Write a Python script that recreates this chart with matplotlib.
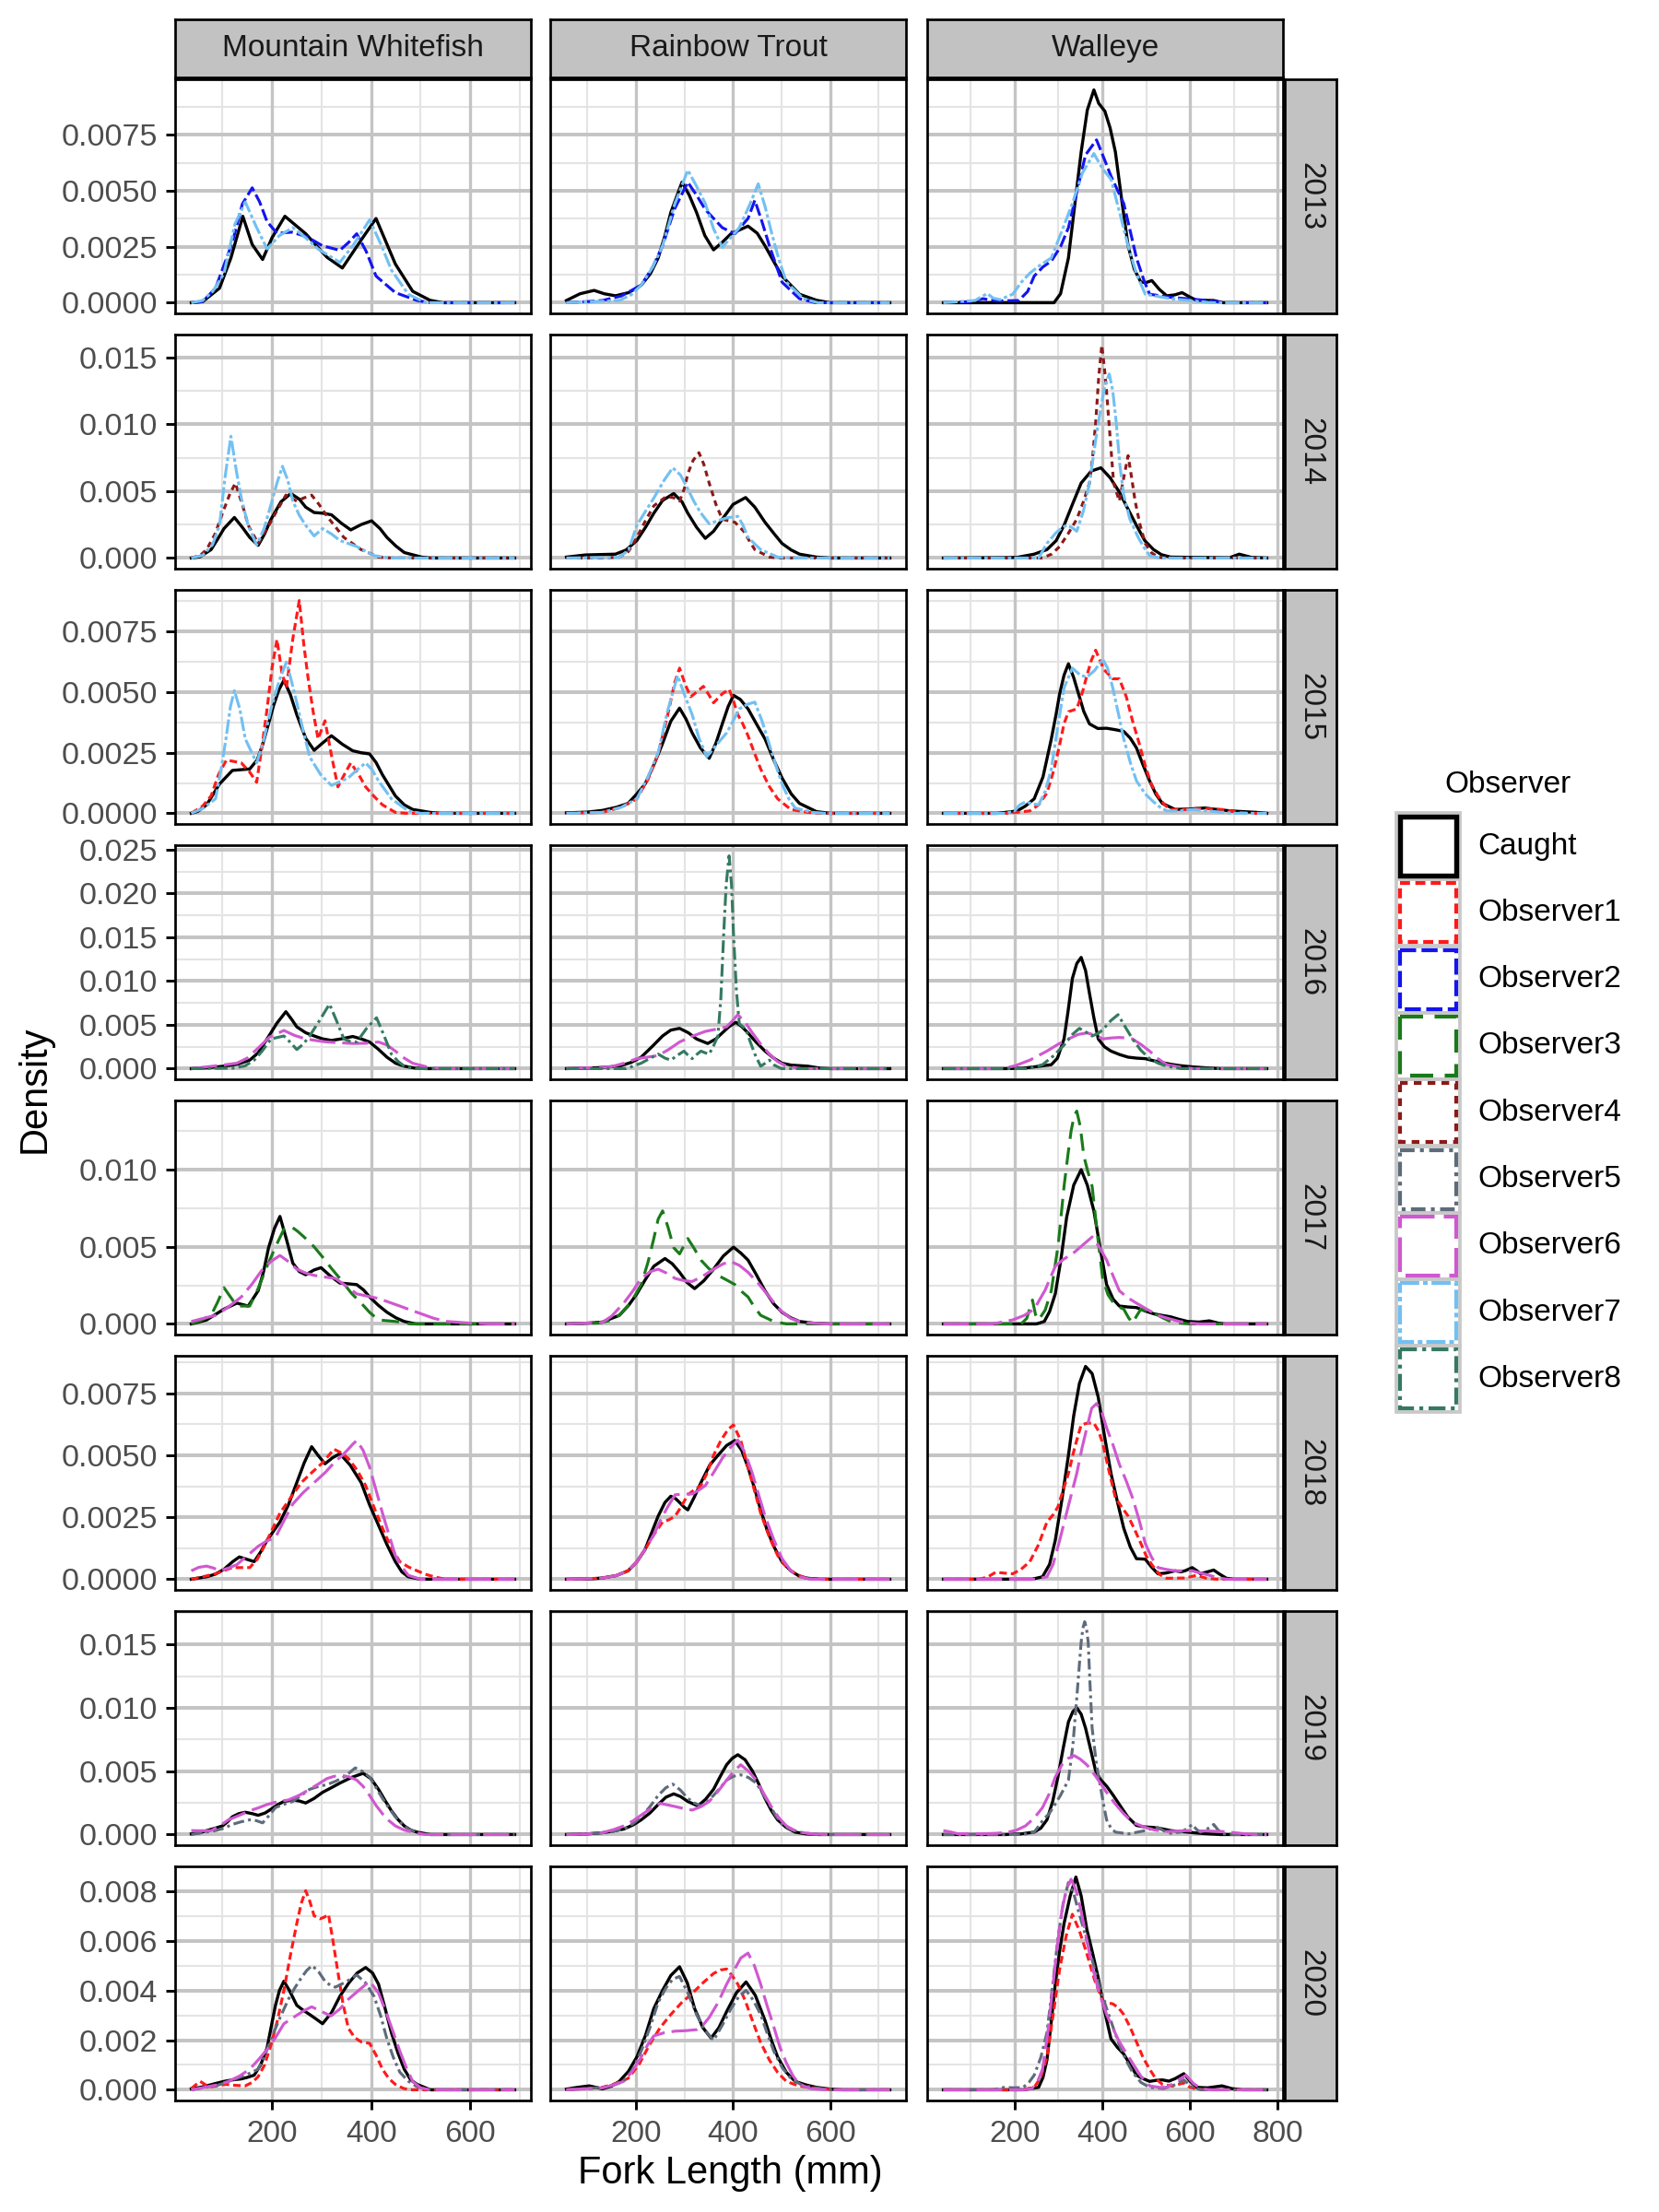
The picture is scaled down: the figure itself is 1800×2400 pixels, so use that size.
import matplotlib
matplotlib.use('Agg')
import matplotlib.pyplot as plt
from matplotlib.patches import Rectangle
import numpy as np

plt.rcParams['font.family'] = ['Liberation Sans', 'DejaVu Sans']

# ---------------- data ----------------
SPECIES = ['Mountain Whitefish', 'Rainbow Trout', 'Walleye']
SP_KEYS = ['MW', 'RT', 'WA']
YEARS = [2013, 2014, 2015, 2016, 2017, 2018, 2019, 2020]
OBSERVERS = ['Caught', 'Observer1', 'Observer2', 'Observer3', 'Observer4',
             'Observer5', 'Observer6', 'Observer7', 'Observer8']
# fork length data range per species (mm)
FORK_RANGE = {'MW': (37, 690), 'RT': (57, 723), 'WA': (38, 775)}
X_BREAKS = {'MW': [200, 400, 600], 'RT': [200, 400, 600], 'WA': [200, 400, 600, 800]}
Y_BREAKS = {2013: [0, 0.0025, 0.005, 0.0075], 2014: [0, 0.005, 0.010, 0.015],
            2015: [0, 0.0025, 0.005, 0.0075], 2016: [0, 0.005, 0.010, 0.015, 0.020, 0.025],
            2017: [0, 0.005, 0.010], 2018: [0, 0.0025, 0.005, 0.0075],
            2019: [0, 0.005, 0.010, 0.015], 2020: [0, 0.002, 0.004, 0.006, 0.008]}
Y_DECIMALS = {2013: 4, 2014: 3, 2015: 4, 2016: 3, 2017: 3, 2018: 4, 2019: 3, 2020: 3}
DENSITY_UNIT = 1e-3   # densities below are given in units of 1e-3 per mm

d2013 = {
 ('MW', 'Caught'): [(37,0),(60,0.05),(94,0.65),(117,2.0),(141,3.86),(160,2.6),(181,1.93),(200,2.9),(226,3.86),(268,3.08),(311,2.03),(342,1.55),(380,2.8),(410,3.76),(449,1.73),(484,0.51),(519,0.11),(545,0)],
 ('MW', 'Observer2'): [(37,0),(60,0.05),(86,0.65),(120,2.7),(140,4.4),(160,5.13),(175,4.5),(190,3.62),(210,3.1),(240,3.15),(270,2.95),(302,2.54),(337,2.34),(355,2.7),(371,3.08),(390,2.3),(410,1.19),(449,0.45),(493,0.1),(520,0)],
 ('MW', 'Observer7'): [(37,0),(60,0.1),(80,0.5),(103,1.3),(125,3.5),(146,4.5),(168,3.4),(190,2.4),(215,3.0),(242,3.35),(268,2.9),(293,2.4),(337,1.8),(365,2.6),(397,3.7),(420,2.6),(441,1.46),(475,0.38),(510,0)],
 ('RT', 'Caught'): [(57,0.1),(85,0.4),(114,0.55),(135,0.4),(158,0.31),(185,0.45),(211,0.78),(230,1.3),(246,2.0),(260,3.0),(272,4.03),(295,5.38),(310,4.8),(325,4.03),(342,3.0),(360,2.36),(378,2.7),(396,3.08),(431,3.42),(450,3.1),(466,2.54),(485,1.8),(501,1.19),(537,0.38),(572,0.11),(600,0)],
 ('RT', 'Observer2'): [(57,0),(100,0.05),(131,0.1),(170,0.3),(211,0.78),(235,1.6),(255,2.54),(280,4.2),(307,5.38),(325,4.8),(343,4.16),(378,3.35),(404,3.08),(431,3.76),(445,4.57),(460,3.6),(475,2.54),(501,0.92),(537,0.18),(570,0)],
 ('RT', 'Observer7'): [(57,0),(166,0.1),(190,0.35),(211,0.78),(235,1.6),(255,2.54),(280,4.4),(307,5.92),(325,5.2),(343,4.43),(360,3.3),(378,2.47),(395,2.9),(413,3.35),(435,4.4),(452,5.31),(466,4.3),(480,3.08),(495,1.9),(510,0.92),(545,0.18),(575,0)],
 ('WA', 'Caught'): [(38,0),(290,0),(305,0.4),(323,2.0),(337,4.3),(352,6.73),(366,8.6),(381,9.5),(392,8.9),(406,8.55),(418,7.8),(430,6.73),(445,4.5),(459,2.54),(473,1.5),(488,0.92),(500,0.9),(513,0.99),(530,0.6),(547,0.31),(565,0.35),(582,0.45),(600,0.25),(615,0.11),(654,0.1),(675,0)],
 ('WA', 'Observer2'): [(38,0),(100,0.05),(128,0.18),(160,0.08),(210,0.1),(230,0.5),(245,1.19),(265,1.6),(284,1.86),(305,2.5),(323,3.35),(345,5.2),(362,6.6),(387,7.27),(405,6.4),(420,5.65),(449,4.43),(465,3.1),(478,2.0),(495,1.0),(508,0.38),(556,0.24),(634,0.11),(680,0)],
 ('WA', 'Observer7'): [(38,0),(110,0.1),(138,0.41),(152,0.2),(167,0.14),(196,0.38),(215,0.9),(235,1.32),(260,1.7),(284,2.0),(310,3.3),(332,4.43),(355,5.8),(381,6.66),(400,6.0),(420,5.51),(440,4.0),(459,2.54),(478,1.3),(498,0.38),(556,0.18),(650,0)],
}

d2014 = {
 ('MW', 'Caught'): [(37,0),(55,0.1),(77,0.63),(90,1.4),(103,2.2),(124,3.03),(140,2.3),(155,1.54),(172,0.95),(185,1.8),(198,2.9),(218,4.2),(238,4.82),(255,4.4),(268,3.8),(285,3.4),(302,3.35),(320,3.23),(340,2.6),(359,2.1),(380,2.5),(401,2.78),(418,2.2),(432,1.54),(450,0.9),(467,0.41),(502,0.07),(520,0)],
 ('MW', 'Observer4'): [(37,0),(55,0.2),(68,0.63),(85,1.8),(100,3.35),(115,4.8),(126,5.6),(140,4.0),(152,2.44),(172,1.09),(190,2.2),(207,3.35),(228,4.7),(250,4.25),(265,4.5),(280,4.7),(295,4.0),(311,3.12),(345,1.54),(380,0.63),(415,0.07),(440,0)],
 ('MW', 'Observer7'): [(37,0),(60,0.2),(80,1.0),(94,2.44),(105,6.0),(117,9.1),(128,6.5),(138,4.48),(152,2.4),(169,0.97),(184,2.2),(198,4.0),(210,5.6),(221,6.85),(232,5.8),(242,4.25),(255,3.2),(268,2.44),(285,1.65),(302,2.2),(320,1.8),(337,1.31),(371,0.86),(406,0.18),(440,0)],
 ('RT', 'Caught'): [(57,0.07),(96,0.23),(158,0.29),(180,0.6),(202,1.31),(220,2.3),(237,3.35),(255,4.3),(278,4.82),(295,4.2),(307,3.35),(325,2.3),(343,1.47),(360,2.0),(378,2.9),(400,4.0),(426,4.52),(445,3.8),(466,2.67),(485,1.8),(501,1.09),(520,0.6),(537,0.29),(572,0.07),(600,0)],
 ('RT', 'Observer4'): [(57,0),(130,0),(166,0.07),(185,0.5),(202,1.54),(220,2.8),(237,3.9),(263,4.6),(278,4.5),(290,4.25),(300,5.2),(307,6.3),(318,7.3),(330,7.87),(340,7.0),(351,5.6),(365,4.0),(378,2.9),(404,2.67),(422,2.0),(435,1.2),(445,0.63),(475,0.07),(500,0)],
 ('RT', 'Observer7'): [(57,0),(166,0.05),(185,0.6),(202,2.44),(220,3.5),(237,4.48),(258,5.8),(276,6.74),(292,6.2),(307,5.16),(320,4.2),(334,3.35),(351,2.56),(370,2.8),(387,3.0),(410,3.12),(420,2.5),(431,1.54),(457,0.63),(492,0.07),(520,0)],
 ('WA', 'Caught'): [(38,0),(180,0.03),(206,0.05),(245,0.29),(274,0.63),(295,1.3),(313,2.44),(332,4.0),(352,5.6),(375,6.5),(397,6.74),(418,6.0),(439,4.93),(458,3.7),(478,2.44),(497,1.3),(517,0.63),(535,0.25),(556,0.07),(690,0.02),(712,0.29),(740,0.05),(775,0)],
 ('WA', 'Observer4'): [(38,0),(264,0),(285,0.3),(303,0.86),(322,1.8),(342,2.9),(357,4.2),(371,5.6),(378,7.5),(385,10.1),(392,13.5),(399,15.9),(405,14.2),(410,12.4),(418,9.0),(426,5.6),(439,4.25),(449,6.0),(459,7.65),(467,6.0),(475,4.25),(486,2.5),(498,1.09),(512,0.4),(527,0.07),(545,0)],
 ('WA', 'Observer7'): [(38,0),(255,0),(274,1.09),(295,1.9),(310,2.3),(319,2.44),(330,2.3),(342,2.0),(357,3.5),(371,5.6),(385,8.8),(397,11.3),(407,13.0),(416,13.75),(424,12.5),(432,10.1),(440,7.0),(449,4.7),(463,2.9),(482,1.54),(495,0.8),(508,0.18),(530,0)],
}

d2015 = {
 ('MW', 'Caught'): [(37,0),(50,0.08),(68,0.35),(94,1.21),(120,1.77),(155,1.83),(170,2.2),(181,2.83),(193,3.7),(203,4.44),(214,5.1),(224,5.49),(237,4.9),(250,4.07),(268,3.1),(285,2.6),(302,2.9),(320,3.2),(342,2.85),(363,2.58),(380,2.5),(397,2.45),(410,2.1),(423,1.59),(449,0.72),(467,0.35),(484,0.16),(519,0.04),(540,0)],
 ('MW', 'Observer1'): [(37,0),(60,0.3),(77,0.72),(92,1.6),(108,2.2),(138,2.08),(155,1.7),(169,1.28),(180,2.8),(190,4.31),(200,6.0),(210,7.17),(220,5.8),(229,5.18),(242,7.2),(255,8.78),(264,7.0),(273,5.55),(283,4.2),(293,3.07),(307,3.82),(320,2.4),(333,1.09),(346,1.6),(359,2.08),(375,1.6),(389,1.09),(406,0.7),(423,0.35),(449,0.04),(470,0)],
 ('MW', 'Observer7'): [(37,0),(60,0.2),(86,0.6),(97,1.8),(107,3.07),(116,4.4),(124,5.06),(135,4.3),(146,3.07),(169,2.08),(183,3.0),(198,4.31),(215,5.5),(229,6.24),(240,5.4),(250,4.56),(263,3.4),(276,2.33),(298,1.6),(320,1.15),(354,1.46),(372,1.8),(389,2.08),(402,1.8),(415,1.34),(441,0.6),(475,0.1),(500,0)],
 ('RT', 'Caught'): [(57,0.02),(100,0.05),(131,0.12),(160,0.25),(184,0.41),(202,0.8),(219,1.21),(237,2.0),(254,2.83),(272,3.8),(290,4.34),(303,3.9),(316,3.32),(333,2.7),(351,2.27),(365,2.9),(378,3.69),(390,4.4),(401,4.87),(415,4.7),(431,4.31),(448,3.7),(466,3.07),(484,2.2),(501,1.46),(520,0.8),(537,0.41),(572,0.07),(600,0)],
 ('RT', 'Observer1'): [(57,0),(131,0.04),(170,0.25),(202,0.6),(225,1.4),(246,2.45),(265,4.0),(280,5.4),(290,5.99),(302,5.3),(313,4.81),(325,5.0),(339,5.24),(350,4.9),(360,4.56),(378,4.93),(392,5.12),(400,4.7),(410,4.07),(420,3.7),(431,3.2),(444,2.5),(457,1.83),(475,1.1),(492,0.6),(519,0.16),(554,0.04),(580,0)],
 ('RT', 'Observer7'): [(57,0),(131,0.04),(170,0.25),(202,0.6),(225,1.5),(246,2.5),(265,4.2),(286,5.68),(300,4.9),(316,4.07),(330,3.1),(346,2.33),(365,2.8),(387,3.32),(400,3.8),(413,4.31),(430,4.5),(445,4.59),(460,3.8),(475,2.83),(488,2.0),(501,1.21),(515,0.6),(528,0.22),(563,0.04),(590,0)],
 ('WA', 'Caught'): [(38,0),(160,0),(185,0.05),(206,0.1),(225,0.3),(245,0.6),(265,1.5),(284,3.07),(295,4.1),(303,4.93),(313,5.7),(323,6.17),(335,5.6),(346,4.93),(358,4.2),(371,3.69),(390,3.5),(410,3.51),(430,3.45),(449,3.38),(464,3.1),(478,2.7),(493,2.0),(508,1.34),(522,0.8),(537,0.41),(566,0.16),(600,0.18),(634,0.22),(665,0.15),(693,0.1),(751,0.04),(775,0)],
 ('WA', 'Observer1'): [(38,0),(180,0),(210,0.05),(235,0.1),(255,0.35),(274,0.84),(290,1.8),(303,2.83),(313,3.7),(323,4.19),(342,4.31),(355,5.0),(365,5.68),(375,6.3),(385,6.73),(395,6.3),(404,5.93),(424,5.55),(439,5.55),(455,4.8),(469,3.82),(484,2.9),(498,1.96),(512,1.2),(527,0.72),(542,0.35),(556,0.16),(585,0.15),(615,0.2),(645,0.18),(673,0.16),(712,0.04),(740,0)],
 ('WA', 'Observer7'): [(38,0),(180,0),(200,0.1),(212,0.35),(225,0.47),(240,0.4),(255,0.35),(270,0.9),(284,1.83),(298,3.5),(313,5.18),(332,5.99),(350,5.7),(365,5.62),(383,5.9),(401,6.36),(412,6.0),(424,5.18),(437,4.1),(449,3.07),(464,2.1),(478,1.34),(498,0.8),(517,0.47),(532,0.25),(547,0.1),(575,0.1),(605,0.16),(640,0.1),(673,0.04),(700,0)],
}

d2016 = {
 ('MW', 'Caught'): [(37,0),(70,0.1),(103,0.28),(130,0.5),(155,0.97),(172,1.8),(190,3.39),(210,5.2),(228,6.5),(240,5.6),(250,4.77),(268,4.1),(285,3.73),(302,3.4),(320,3.22),(340,3.4),(363,3.67),(380,3.4),(397,3.04),(415,2.2),(432,1.31),(450,0.6),(467,0.28),(490,0.05),(510,0)],
 ('MW', 'Observer6'): [(37,0),(68,0.2),(100,0.4),(129,0.62),(150,1.2),(172,2.35),(195,3.6),(224,4.36),(245,3.8),(268,3.39),(290,3.2),(311,3.04),(340,2.95),(363,2.87),(390,2.9),(415,3.04),(432,2.7),(449,2.0),(467,1.2),(484,0.62),(519,0.1),(540,0)],
 ('MW', 'Observer8'): [(37,0),(120,0.05),(145,0.3),(164,0.97),(180,2.0),(198,3.39),(224,3.73),(237,3.0),(250,2.18),(263,2.8),(276,3.73),(296,5.5),(316,7.37),(330,5.5),(345,3.39),(358,3.1),(371,3.04),(391,4.6),(411,5.81),(426,3.8),(441,1.66),(455,0.8),(467,0.28),(490,0)],
 ('RT', 'Caught'): [(57,0),(120,0.1),(166,0.28),(190,0.7),(211,1.31),(235,2.6),(255,3.73),(272,4.4),(290,4.6),(308,4.1),(325,3.39),(348,2.87),(365,3.4),(378,4.08),(392,4.8),(406,5.29),(418,4.8),(431,4.08),(448,3.0),(466,2.0),(484,1.2),(501,0.62),(520,0.4),(554,0.28),(580,0.05),(600,0)],
 ('RT', 'Observer6'): [(57,0),(148,0.2),(175,0.6),(202,1.14),(246,1.49),(268,2.2),(290,3.04),(316,3.7),(343,4.25),(365,4.5),(387,4.77),(398,5.4),(410,6.16),(425,5.3),(440,4.08),(457,2.8),(475,1.66),(492,0.8),(510,0.28),(540,0)],
 ('RT', 'Observer8'): [(57,0),(180,0),(211,0.62),(230,1.2),(246,1.66),(260,1.2),(272,0.97),(285,1.5),(299,2.0),(308,1.5),(316,1.14),(325,1.6),(334,2.0),(343,1.8),(351,1.66),(360,2.6),(369,3.73),(375,8.0),(381,15.5),(386,21.0),(392,24.3),(397,21.0),(401,15.5),(407,9.0),(413,5.12),(420,4.8),(427,4.43),(436,3.0),(445,1.66),(457,0.28),(466,0.6),(475,0.97),(485,0.4),(500,0)],
 ('WA', 'Caught'): [(38,0),(180,0),(220,0.05),(245,0.2),(284,0.45),(298,1.2),(313,3.39),(322,6.5),(332,10.3),(342,12.0),(352,12.7),(362,11.2),(371,8.58),(381,5.8),(391,3.39),(405,2.5),(420,2.0),(440,1.6),(459,1.31),(478,1.2),(498,1.14),(517,0.9),(537,0.69),(556,0.5),(576,0.35),(605,0.2),(634,0.1),(670,0)],
 ('WA', 'Observer6'): [(38,0),(170,0),(200,0.3),(235,0.97),(255,1.5),(274,2.0),(300,2.8),(323,3.39),(345,3.9),(365,4.08),(385,3.8),(401,3.39),(420,3.5),(439,3.56),(455,3.5),(469,3.39),(490,2.7),(508,2.0),(528,1.1),(547,0.45),(586,0.1),(610,0)],
 ('WA', 'Observer8'): [(38,0),(230,0),(264,0.45),(290,1.5),(313,2.7),(332,3.9),(348,4.6),(362,4.2),(377,3.73),(390,4.0),(401,4.43),(420,5.5),(436,6.16),(452,4.8),(469,3.39),(488,2.1),(508,1.14),(528,0.6),(547,0.28),(580,0)],
}

d2017 = {
 ('MW', 'Caught'): [(37,0),(50,0.1),(68,0.26),(85,0.6),(103,0.96),(129,1.35),(152,1.16),(172,2.15),(183,3.4),(193,4.94),(205,6.2),(216,6.97),(229,5.5),(242,3.94),(255,3.4),(268,3.19),(285,3.5),(299,3.65),(318,3.1),(337,2.65),(355,2.6),(371,2.55),(385,2.2),(397,1.75),(415,1.2),(432,0.76),(450,0.4),(467,0.16),(490,0)],
 ('MW', 'Observer3'): [(37,0),(55,0.2),(77,0.56),(90,1.4),(103,2.35),(115,1.8),(129,1.16),(155,1.16),(172,2.3),(190,3.74),(207,5.0),(224,6.14),(238,6.33),(252,6.0),(268,5.54),(285,5.0),(302,4.34),(320,3.6),(337,2.95),(360,2.0),(380,1.35),(397,0.75),(415,0.26),(449,0.16),(480,0)],
 ('MW', 'Observer6'): [(37,0.16),(60,0.35),(86,0.56),(112,1.1),(138,1.75),(160,2.6),(181,3.55),(200,4.1),(216,4.44),(235,4.0),(250,3.55),(268,3.3),(285,3.15),(305,3.05),(328,2.95),(350,2.45),(371,1.95),(393,1.8),(415,1.65),(437,1.4),(458,1.16),(480,0.9),(501,0.66),(527,0.36),(553,0.16),(597,0.06),(640,0)],
 ('RT', 'Caught'): [(57,0),(100,0.05),(131,0.12),(166,0.56),(185,1.2),(202,1.95),(220,2.9),(237,3.74),(260,4.24),(275,3.9),(290,3.35),(305,2.7),(321,2.29),(340,2.8),(360,3.55),(380,4.4),(401,4.98),(416,4.6),(431,4.14),(448,3.2),(466,2.15),(484,1.3),(501,0.76),(519,0.4),(537,0.16),(572,0.03),(600,0)],
 ('RT', 'Observer3'): [(57,0),(123,0.06),(145,0.2),(166,0.56),(190,1.4),(211,2.55),(225,4.0),(237,5.54),(246,6.8),(255,7.33),(266,6.3),(278,4.94),(290,4.54),(307,5.54),(320,4.9),(334,4.14),(350,3.6),(369,3.15),(387,2.85),(404,2.55),(418,2.1),(431,1.75),(444,1.1),(457,0.56),(484,0.16),(510,0)],
 ('RT', 'Observer6'): [(57,0),(131,0.1),(150,0.5),(175,1.35),(193,2.1),(211,2.95),(230,3.4),(246,3.55),(263,3.3),(281,2.95),(300,2.8),(316,2.75),(338,3.1),(360,3.55),(380,3.9),(396,4.04),(413,3.8),(431,3.35),(453,2.6),(475,1.75),(497,0.9),(519,0.36),(540,0.12),(563,0.06),(590,0)],
 ('WA', 'Caught'): [(38,0),(250,0),(268,0.16),(280,0.8),(293,1.95),(306,4.2),(319,6.93),(335,9.0),(352,10.0),(366,9.0),(381,7.33),(396,4.8),(410,2.55),(425,1.6),(439,1.16),(458,1.1),(478,1.06),(497,0.85),(517,0.66),(537,0.55),(556,0.46),(575,0.3),(595,0.16),(620,0.12),(644,0.2),(665,0.05),(680,0)],
 ('WA', 'Observer3'): [(38,0),(215,0),(228,0.36),(241,1.55),(248,0.6),(255,0.26),(270,0.9),(284,2.15),(300,5.2),(313,8.92),(322,11.0),(329,12.5),(336,13.5),(342,13.8),(350,12.8),(358,10.9),(367,9.9),(377,8.92),(389,5.8),(401,2.95),(413,1.9),(426,1.35),(438,1.1),(449,0.96),(460,0.4),(469,0.06),(478,0.5),(488,0.96),(507,0.8),(527,0.56),(541,0.35),(556,0.16),(580,0.05),(600,0)],
 ('WA', 'Observer6'): [(38,0),(150,0),(196,0.26),(222,0.55),(245,0.96),(270,2.2),(293,3.74),(312,4.2),(332,4.54),(355,5.1),(377,5.64),(393,5.0),(410,4.14),(425,3.1),(439,2.15),(458,1.7),(478,1.35),(502,0.95),(527,0.56),(551,0.35),(576,0.16),(600,0.05),(625,0)],
}

d2018 = {
 ('MW', 'Caught'): [(37,0),(68,0.1),(85,0.2),(103,0.4),(120,0.7),(134,0.9),(150,0.8),(164,0.71),(177,1.1),(190,1.57),(216,2.31),(233,3.0),(250,3.9),(265,4.7),(280,5.35),(293,5.0),(307,4.66),(322,4.9),(337,5.07),(358,4.6),(380,3.9),(397,3.0),(415,2.18),(432,1.4),(449,0.71),(462,0.3),(475,0.1),(500,0)],
 ('MW', 'Observer1'): [(37,0),(60,0.1),(86,0.22),(103,0.35),(120,0.47),(155,0.47),(170,0.8),(181,1.2),(198,1.9),(216,2.67),(238,3.3),(259,3.9),(280,4.3),(302,4.7),(325,5.25),(340,5.1),(354,4.88),(372,4.4),(389,3.78),(406,2.9),(423,2.06),(440,1.3),(458,0.71),(475,0.5),(493,0.34),(510,0.2),(527,0.1),(550,0)],
 ('MW', 'Observer6'): [(37,0.34),(52,0.48),(68,0.53),(82,0.45),(94,0.34),(112,0.45),(129,0.59),(150,0.95),(172,1.33),(190,1.55),(207,1.69),(225,2.4),(242,3.04),(263,3.5),(285,3.9),(307,4.3),(328,4.76),(342,5.0),(354,5.25),(363,5.45),(371,5.6),(384,5.2),(397,4.52),(410,3.6),(423,2.67),(436,1.8),(449,0.96),(462,0.5),(475,0.16),(500,0)],
 ('RT', 'Caught'): [(57,0),(110,0.02),(131,0.05),(160,0.15),(184,0.34),(202,0.7),(219,1.2),(233,1.9),(246,2.55),(260,3.1),(272,3.35),(282,3.25),(290,3.1),(300,2.9),(307,2.8),(320,3.3),(334,3.9),(352,4.6),(369,5.0),(387,5.4),(404,5.6),(418,5.2),(431,4.52),(444,3.7),(457,2.8),(470,2.0),(484,1.33),(501,0.7),(519,0.34),(537,0.12),(554,0.04),(580,0)],
 ('RT', 'Observer1'): [(57,0),(110,0.03),(131,0.05),(160,0.15),(184,0.34),(202,0.7),(219,1.2),(237,1.8),(255,2.31),(268,2.4),(281,2.55),(294,2.95),(307,3.41),(320,3.6),(334,3.78),(347,4.3),(360,5.0),(375,5.6),(390,6.05),(401,6.23),(416,5.6),(431,4.52),(444,3.6),(457,2.67),(475,1.7),(492,0.96),(510,0.5),(528,0.22),(550,0.05),(575,0)],
 ('RT', 'Observer6'): [(57,0),(110,0.03),(131,0.05),(160,0.15),(184,0.34),(202,0.7),(219,1.2),(237,1.8),(255,2.55),(268,3.0),(281,3.41),(300,3.44),(316,3.44),(330,3.6),(343,3.78),(360,4.3),(378,4.88),(394,5.3),(410,5.62),(425,5.1),(440,4.27),(453,3.4),(466,2.55),(484,1.6),(501,0.83),(519,0.35),(537,0.1),(560,0)],
 ('WA', 'Caught'): [(38,0),(240,0),(264,0.1),(280,0.6),(293,1.57),(308,3.2),(323,5.0),(335,6.6),(348,7.9),(362,8.59),(377,8.3),(391,7.34),(405,5.8),(420,4.27),(435,3.1),(449,2.06),(464,1.3),(478,0.83),(498,0.81),(512,0.5),(527,0.22),(545,0.25),(566,0.34),(580,0.3),(590,0.35),(605,0.47),(615,0.35),(624,0.22),(640,0.3),(654,0.37),(668,0.2),(683,0.04),(700,0)],
 ('WA', 'Observer1'): [(38,0),(120,0),(140,0.1),(157,0.28),(175,0.25),(196,0.22),(215,0.4),(235,0.71),(255,1.4),(274,2.31),(288,2.6),(299,2.92),(311,3.6),(323,4.27),(337,5.3),(352,6.23),(366,6.3),(381,6.3),(391,6.0),(401,5.5),(415,4.4),(430,3.29),(445,2.9),(459,2.55),(474,2.0),(488,1.45),(500,0.95),(513,0.59),(530,0.2),(547,0.04),(590,0.05),(615,0.16),(635,0.05),(660,0)],
 ('WA', 'Observer6'): [(38,0),(250,0),(274,0.1),(288,0.6),(303,1.57),(322,2.9),(342,4.27),(354,5.3),(365,6.11),(376,6.9),(387,7.09),(398,6.8),(410,6.11),(425,5.4),(439,4.64),(454,4.0),(469,3.29),(484,2.4),(498,1.45),(512,0.9),(527,0.47),(545,0.4),(566,0.34),(585,0.34),(605,0.34),(624,0.25),(644,0.16),(665,0.05),(685,0)],
}

d2019 = {
 ('MW', 'Caught'): [(37,0.05),(55,0.15),(68,0.31),(85,0.5),(100,0.68),(110,1.0),(120,1.4),(133,1.65),(146,1.76),(160,1.65),(172,1.52),(186,1.7),(198,2.0),(211,2.35),(224,2.61),(242,2.73),(255,2.65),(268,2.49),(285,2.85),(302,3.33),(320,3.7),(337,4.06),(360,4.5),(384,4.83),(400,4.4),(415,3.57),(428,2.7),(441,1.88),(454,1.2),(467,0.68),(480,0.35),(493,0.19),(520,0)],
 ('MW', 'Observer5'): [(37,0),(60,0.15),(86,0.31),(103,0.5),(120,0.8),(137,1.0),(155,1.16),(168,1.1),(181,0.92),(194,1.5),(207,2.13),(225,2.4),(242,2.61),(259,3.1),(276,3.57),(294,3.8),(311,3.94),(328,4.2),(345,4.54),(357,4.9),(368,5.26),(382,5.0),(397,4.54),(410,3.7),(423,2.85),(436,2.1),(449,1.4),(462,0.85),(475,0.43),(500,0.05),(520,0)],
 ('MW', 'Observer6'): [(37,0.31),(50,0.3),(77,0.3),(95,0.7),(112,1.16),(133,1.5),(155,1.88),(172,2.1),(190,2.37),(212,2.6),(233,2.73),(255,3.1),(276,3.57),(294,4.0),(311,4.42),(326,4.6),(342,4.66),(356,4.55),(371,4.3),(384,3.8),(397,3.09),(410,2.3),(423,1.64),(436,1.1),(449,0.68),(467,0.35),(484,0.19),(510,0)],
 ('RT', 'Caught'): [(57,0),(100,0.05),(131,0.14),(155,0.28),(175,0.43),(194,0.75),(211,1.16),(229,1.7),(246,2.37),(262,2.95),(278,3.21),(292,3.0),(307,2.61),(328,2.25),(344,2.8),(360,3.57),(374,4.6),(387,5.51),(398,6.0),(410,6.3),(425,5.9),(440,5.02),(453,4.0),(466,2.85),(479,1.9),(492,1.16),(510,0.55),(528,0.19),(550,0.05),(575,0)],
 ('RT', 'Observer5'): [(57,0),(100,0.05),(131,0.14),(155,0.28),(175,0.43),(194,0.85),(211,1.4),(229,2.2),(246,3.09),(262,3.7),(276,3.98),(292,3.5),(307,2.85),(320,2.5),(334,2.25),(347,2.6),(360,3.09),(374,3.7),(387,4.3),(401,4.6),(416,4.71),(432,4.5),(448,4.06),(462,3.2),(475,2.37),(488,1.5),(501,0.8),(519,0.4),(537,0.19),(560,0.05),(585,0)],
 ('RT', 'Observer6'): [(57,0),(100,0.05),(131,0.14),(155,0.4),(175,0.68),(195,1.1),(215,1.64),(233,2.1),(250,2.46),(270,2.3),(290,2.13),(303,2.0),(316,1.93),(334,2.2),(351,2.61),(369,3.4),(387,4.3),(402,5.0),(416,5.51),(432,5.0),(448,4.3),(464,3.2),(480,2.13),(495,1.3),(510,0.68),(528,0.3),(545,0.14),(570,0.03),(595,0)],
 ('WA', 'Caught'): [(38,0),(180,0),(215,0.05),(245,0.19),(260,0.5),(274,1.16),(287,2.6),(299,4.54),(311,6.8),(323,8.89),(333,9.7),(342,10.0),(352,9.5),(362,8.4),(373,6.8),(385,5.02),(397,4.3),(410,3.82),(425,3.1),(439,2.37),(458,1.4),(478,0.72),(497,0.6),(517,0.56),(537,0.45),(556,0.31),(575,0.25),(595,0.19),(615,0.12),(634,0.07),(670,0)],
 ('WA', 'Observer5'): [(38,0),(200,0),(230,0.05),(245,0.19),(256,0.7),(268,1.28),(278,1.6),(288,2.13),(305,3.1),(323,4.3),(333,7.0),(342,10.8),(347,13.0),(352,15.2),(356,16.3),(360,16.8),(364,16.3),(368,15.2),(372,12.0),(377,8.4),(387,5.5),(397,3.57),(404,2.2),(410,1.16),(420,0.5),(430,0.19),(460,0.05),(498,0.31),(512,0.45),(527,0.56),(540,0.3),(556,0.1),(580,0.2),(595,0.5),(605,0.8),(615,0.4),(624,0.19),(638,0.4),(654,0.8),(663,0.4),(673,0.07),(700,0)],
 ('WA', 'Observer6'): [(38,0.31),(55,0.2),(70,0.07),(120,0.05),(160,0.1),(186,0.19),(205,0.35),(225,0.68),(245,1.3),(264,2.13),(279,3.2),(293,4.54),(308,5.5),(322,6.0),(336,6.23),(350,5.95),(365,5.5),(371,5.26),(385,4.6),(397,4.0),(410,3.33),(430,2.4),(449,1.64),(470,0.95),(498,0.56),(520,0.35),(547,0.24),(570,0.28),(595,0.31),(635,0.28),(673,0.24),(700,0.15),(722,0.07),(750,0)],
}

d2020 = {
 ('MW', 'Caught'): [(37,0.04),(55,0.1),(68,0.16),(85,0.25),(103,0.34),(120,0.4),(138,0.44),(150,0.5),(164,0.59),(177,1.0),(190,1.69),(198,2.5),(207,3.4),(215,4.0),(224,4.37),(235,4.0),(250,3.4),(263,3.2),(276,3.03),(289,2.85),(302,2.66),(320,3.1),(337,3.76),(355,4.3),(372,4.7),(389,4.92),(403,4.7),(415,4.25),(428,3.3),(441,2.3),(454,1.5),(467,0.83),(480,0.4),(493,0.22),(520,0)],
 ('MW', 'Observer1'): [(37,0.05),(46,0.2),(55,0.34),(66,0.2),(77,0.12),(92,0.17),(107,0.22),(126,0.18),(146,0.16),(160,0.3),(172,0.53),(185,1.0),(198,1.81),(211,2.8),(224,4.0),(237,5.4),(250,6.69),(259,7.5),(268,8.01),(276,7.6),(285,7.0),(297,6.88),(306,6.95),(314,7.06),(323,6.0),(332,4.86),(343,3.5),(354,2.48),(367,2.1),(380,1.93),(397,1.87),(410,1.4),(423,0.83),(436,0.45),(449,0.22),(465,0.06),(480,0)],
 ('MW', 'Observer5'): [(37,0),(60,0.08),(86,0.16),(108,0.3),(129,0.46),(150,0.62),(172,0.83),(185,1.35),(198,2.05),(215,2.85),(233,3.64),(246,4.1),(259,4.5),(270,4.8),(281,5.0),(294,4.75),(307,4.37),(318,4.2),(328,4.13),(350,4.35),(371,4.62),(389,4.3),(406,3.76),(419,3.0),(432,2.05),(445,1.3),(458,0.71),(475,0.35),(493,0.12),(515,0)],
 ('MW', 'Observer6'): [(37,0),(68,0.12),(90,0.2),(112,0.34),(134,0.55),(155,0.83),(172,1.2),(190,1.62),(207,2.1),(224,2.66),(250,3.0),(266,3.2),(280,3.34),(300,3.15),(319,2.97),(337,3.25),(354,3.64),(375,4.0),(397,4.37),(415,3.9),(432,3.03),(445,2.3),(458,1.56),(471,0.9),(484,0.34),(500,0.08),(520,0)],
 ('RT', 'Caught'): [(57,0.03),(80,0.1),(104,0.16),(118,0.1),(131,0.04),(150,0.15),(166,0.34),(185,0.75),(202,1.32),(220,2.2),(237,3.27),(255,4.0),(272,4.6),(290,4.95),(306,4.3),(321,3.27),(338,2.5),(355,2.08),(371,2.5),(387,3.15),(407,3.9),(427,4.34),(446,3.8),(466,2.79),(479,2.0),(492,1.32),(510,0.7),(528,0.34),(550,0.2),(572,0.1),(600,0.03),(625,0)],
 ('RT', 'Observer1'): [(57,0),(100,0.05),(131,0.1),(158,0.25),(184,0.46),(206,1.0),(228,1.81),(250,2.5),(272,3.03),(294,3.5),(316,3.88),(338,4.3),(360,4.68),(374,4.82),(387,4.86),(398,4.6),(410,4.25),(425,3.6),(440,2.79),(457,1.9),(475,1.2),(492,0.7),(510,0.34),(532,0.18),(554,0.1),(590,0.03),(620,0)],
 ('RT', 'Observer5'): [(57,0),(100,0.05),(131,0.1),(155,0.2),(175,0.34),(193,0.8),(211,1.56),(229,2.5),(246,3.52),(262,4.1),(276,4.45),(290,4.56),(307,3.9),(325,3.03),(342,2.4),(360,1.99),(378,2.6),(396,3.27),(412,3.75),(427,4.0),(442,3.6),(457,3.03),(470,2.3),(484,1.56),(501,0.9),(519,0.46),(541,0.2),(563,0.1),(590,0.03),(620,0)],
 ('RT', 'Observer6'): [(57,0),(100,0.05),(131,0.08),(155,0.2),(175,0.34),(193,0.75),(211,1.32),(224,1.8),(237,2.17),(259,2.3),(281,2.36),(303,2.38),(325,2.42),(338,2.6),(351,2.91),(369,3.5),(387,4.25),(402,4.8),(416,5.3),(431,5.5),(444,5.0),(457,4.25),(470,3.4),(484,2.54),(497,1.7),(510,1.08),(524,0.55),(537,0.22),(560,0.05),(590,0)],
 ('WA', 'Caught'): [(38,0),(220,0),(255,0.1),(265,0.5),(274,1.2),(283,2.6),(293,4.25),(303,5.6),(313,6.69),(327,7.8),(340,8.56),(352,7.8),(365,6.45),(378,5.5),(391,4.5),(405,3.2),(420,2.05),(435,1.7),(449,1.44),(464,1.0),(478,0.59),(493,0.45),(508,0.34),(522,0.38),(537,0.4),(552,0.35),(566,0.45),(586,0.65),(600,0.35),(615,0.1),(640,0.08),(673,0.16),(695,0.05),(720,0)],
 ('WA', 'Observer1'): [(38,0),(210,0),(230,0.05),(245,0.1),(260,0.5),(274,1.32),(288,3.0),(303,4.86),(318,6.2),(332,7.06),(348,6.4),(365,5.47),(383,4.4),(401,3.58),(412,3.5),(424,3.46),(437,3.3),(449,3.03),(464,2.5),(478,1.93),(493,1.3),(508,0.83),(522,0.45),(537,0.22),(560,0.15),(586,0.28),(600,0.1),(615,0.04),(640,0)],
 ('WA', 'Observer5'): [(38,0),(150,0),(177,0.1),(200,0.08),(220,0.1),(233,0.3),(245,0.59),(260,1.3),(274,2.3),(287,4.2),(299,6.08),(311,7.5),(323,8.34),(335,7.9),(346,7.18),(362,6.2),(377,5.23),(393,4.2),(410,3.27),(425,2.5),(439,1.81),(454,1.2),(469,0.71),(488,0.3),(508,0.1),(540,0.05),(565,0.2),(586,0.4),(605,0.1),(626,0)],
 ('WA', 'Observer6'): [(38,0),(220,0),(240,0.05),(252,0.3),(264,0.83),(276,2.3),(288,4.25),(299,6.0),(309,7.3),(319,8.1),(329,8.47),(341,8.0),(352,7.18),(364,6.1),(377,4.98),(393,3.9),(410,3.03),(425,2.45),(439,1.93),(454,1.5),(469,1.08),(488,0.55),(508,0.16),(530,0.1),(547,0.1),(570,0.35),(591,0.59),(608,0.25),(626,0.04),(650,0)],
}

DATA = {2013: d2013, 2014: d2014, 2015: d2015, 2016: d2016,
        2017: d2017, 2018: d2018, 2019: d2019, 2020: d2020}

# ---------------- styles ----------------
COLORS = {'Caught': '#000000', 'Observer1': '#FF1A1A', 'Observer2': '#1414F0',
          'Observer3': '#1A7A1A', 'Observer4': '#8B1A1A', 'Observer5': '#5E6B7B',
          'Observer6': '#D058D0', 'Observer7': '#72C0F2', 'Observer8': '#357A60'}
DASHES = {'Caught': None, 'Observer1': (2.6, 1.4), 'Observer2': (4.2, 1.4),
          'Observer3': (6.0, 3.0), 'Observer4': (2.0, 1.6), 'Observer5': (3.8, 1.4, 1.0, 1.4),
          'Observer6': (9.0, 2.4), 'Observer7': (5.0, 1.0, 1.2, 1.0), 'Observer8': (4.4, 1.4, 1.0, 1.4)}
LW = 1.5

W, H = 1800, 2400
fig = plt.figure(figsize=(12, 16), dpi=150)
fig.patch.set_facecolor('white')

COL_LEFT = [190, 597, 1006]
PANEL_W = 386
ROW_TOP0, ROW_STEP, PANEL_H = 86, 277, 254
STRIP_X0, STRIP_X1 = 1394, 1450
TICK_COLOR = '#4D4D4D'
STRIP_FILL = '#C2C2C2'


def px_axes(x0, y0, x1, y1):
    return fig.add_axes([x0 / W, 1 - y1 / H, (x1 - x0) / W, (y1 - y0) / H])


def row_max(year):
    return max(y for pts in DATA[year].values() for _, y in pts) * DENSITY_UNIT


for r, year in enumerate(YEARS):
    top = ROW_TOP0 + ROW_STEP * r
    ymax = row_max(year)
    ylim = (-0.05 * ymax, 1.05 * ymax)
    yb = Y_BREAKS[year]
    step = yb[1] - yb[0]
    yminor = [b + step / 2 for b in [yb[0] - step] + yb]
    for c, sk in enumerate(SP_KEYS):
        ax = px_axes(COL_LEFT[c], top, COL_LEFT[c] + PANEL_W, top + PANEL_H)
        lo, hi = FORK_RANGE[sk]
        span = hi - lo
        ax.set_xlim(lo - 0.05 * span, hi + 0.05 * span)
        ax.set_ylim(*ylim)
        xb = X_BREAKS[sk]
        xminor = [b - 100 for b in xb] + [xb[-1] + 100]
        for v in xminor:
            ax.axvline(v, color='#E4E4E4', lw=1.0, zorder=0)
        for v in yminor:
            ax.axhline(v, color='#E4E4E4', lw=1.0, zorder=0)
        for v in xb:
            ax.axvline(v, color='#C4C4C4', lw=1.6, zorder=0.5)
        for v in yb:
            ax.axhline(v, color='#C4C4C4', lw=1.9, zorder=0.5)
        for obs in OBSERVERS:
            pts = DATA[year].get((sk, obs))
            if pts is None:
                continue
            xs = [p[0] for p in pts]
            ys = [p[1] * DENSITY_UNIT for p in pts]
            if xs[0] > lo:
                xs.insert(0, lo); ys.insert(0, 0.0)
            if xs[-1] < hi:
                xs.append(hi); ys.append(0.0)
            if DASHES[obs] is None:
                ax.plot(xs, ys, color=COLORS[obs], lw=LW + 0.1, solid_joinstyle='round', zorder=3)
            else:
                ax.plot(xs, ys, color=COLORS[obs], lw=LW, dashes=DASHES[obs],
                        dash_joinstyle='round', zorder=3)
        for s in ax.spines.values():
            s.set_color('black'); s.set_linewidth(1.3); s.set_zorder(5)
        ax.set_xticks(xb)
        ax.set_yticks(yb)
        if c == 0:
            ax.set_yticklabels([f'{v:.{Y_DECIMALS[year]}f}' for v in yb])
            ax.tick_params(axis='y', length=5, width=1.4, color='black',
                           labelsize=16.3, labelcolor=TICK_COLOR, pad=4)
        else:
            ax.tick_params(axis='y', length=0, labelleft=False)
        if r == len(YEARS) - 1:
            ax.set_xticklabels([str(v) for v in xb])
            ax.tick_params(axis='x', length=5, width=1.4, color='black',
                           labelsize=16, labelcolor=TICK_COLOR, pad=5)
        else:
            ax.tick_params(axis='x', length=0, labelbottom=False)

    # right strip with year
    sax = px_axes(STRIP_X0, top, STRIP_X1, top + PANEL_H)
    sax.set_facecolor(STRIP_FILL)
    sax.set_xticks([]); sax.set_yticks([])
    for s in sax.spines.values():
        s.set_color('black'); s.set_linewidth(1.3)
    sax.text(0.5, 0.5, str(year), rotation=270, ha='center', va='center',
             fontsize=16, color='#1A1A1A', transform=sax.transAxes)

# top strips with species
for c, name in enumerate(SPECIES):
    sax = px_axes(COL_LEFT[c], 21, COL_LEFT[c] + PANEL_W, 84)
    sax.set_facecolor(STRIP_FILL)
    sax.set_xticks([]); sax.set_yticks([])
    for s in sax.spines.values():
        s.set_color('black'); s.set_linewidth(1.3)
    sax.text(0.5, 0.5, name, ha='center', va='center', fontsize=16,
             color='#1A1A1A', transform=sax.transAxes)

# axis titles
fig.text(38 / W, 1 - 1182 / H, 'Density', rotation=90, ha='center', va='center', fontsize=20)
fig.text(792 / W, 1 - 2358 / H, 'Fork Length (mm)', ha='center', va='center', fontsize=20)

# legend
lax = px_axes(1500, 820, 1800, 1560)
lax.set_xlim(1500, 1800)
lax.set_ylim(1560, 820)
lax.axis('off')
lax.text(1636, 851, 'Observer', ha='center', va='center', fontsize=16)
for k, obs in enumerate(OBSERVERS):
    cy = 918 + 72.3 * k
    lax.add_patch(Rectangle((1515, cy - 36), 69, 72, facecolor='white',
                            edgecolor='#C8C8C8', lw=1.8, zorder=1))
    kw = dict(facecolor='none', edgecolor=COLORS[obs], lw=2.0 if obs != 'Caught' else 2.6, zorder=2)
    if DASHES[obs] is not None:
        kw['linestyle'] = (0, DASHES[obs])
    lax.add_patch(Rectangle((1519, cy - 32), 61, 64, **kw))
    lax.text(1603, cy, obs, ha='left', va='center', fontsize=16)

fig.savefig('out.png', dpi=150, facecolor='white')
